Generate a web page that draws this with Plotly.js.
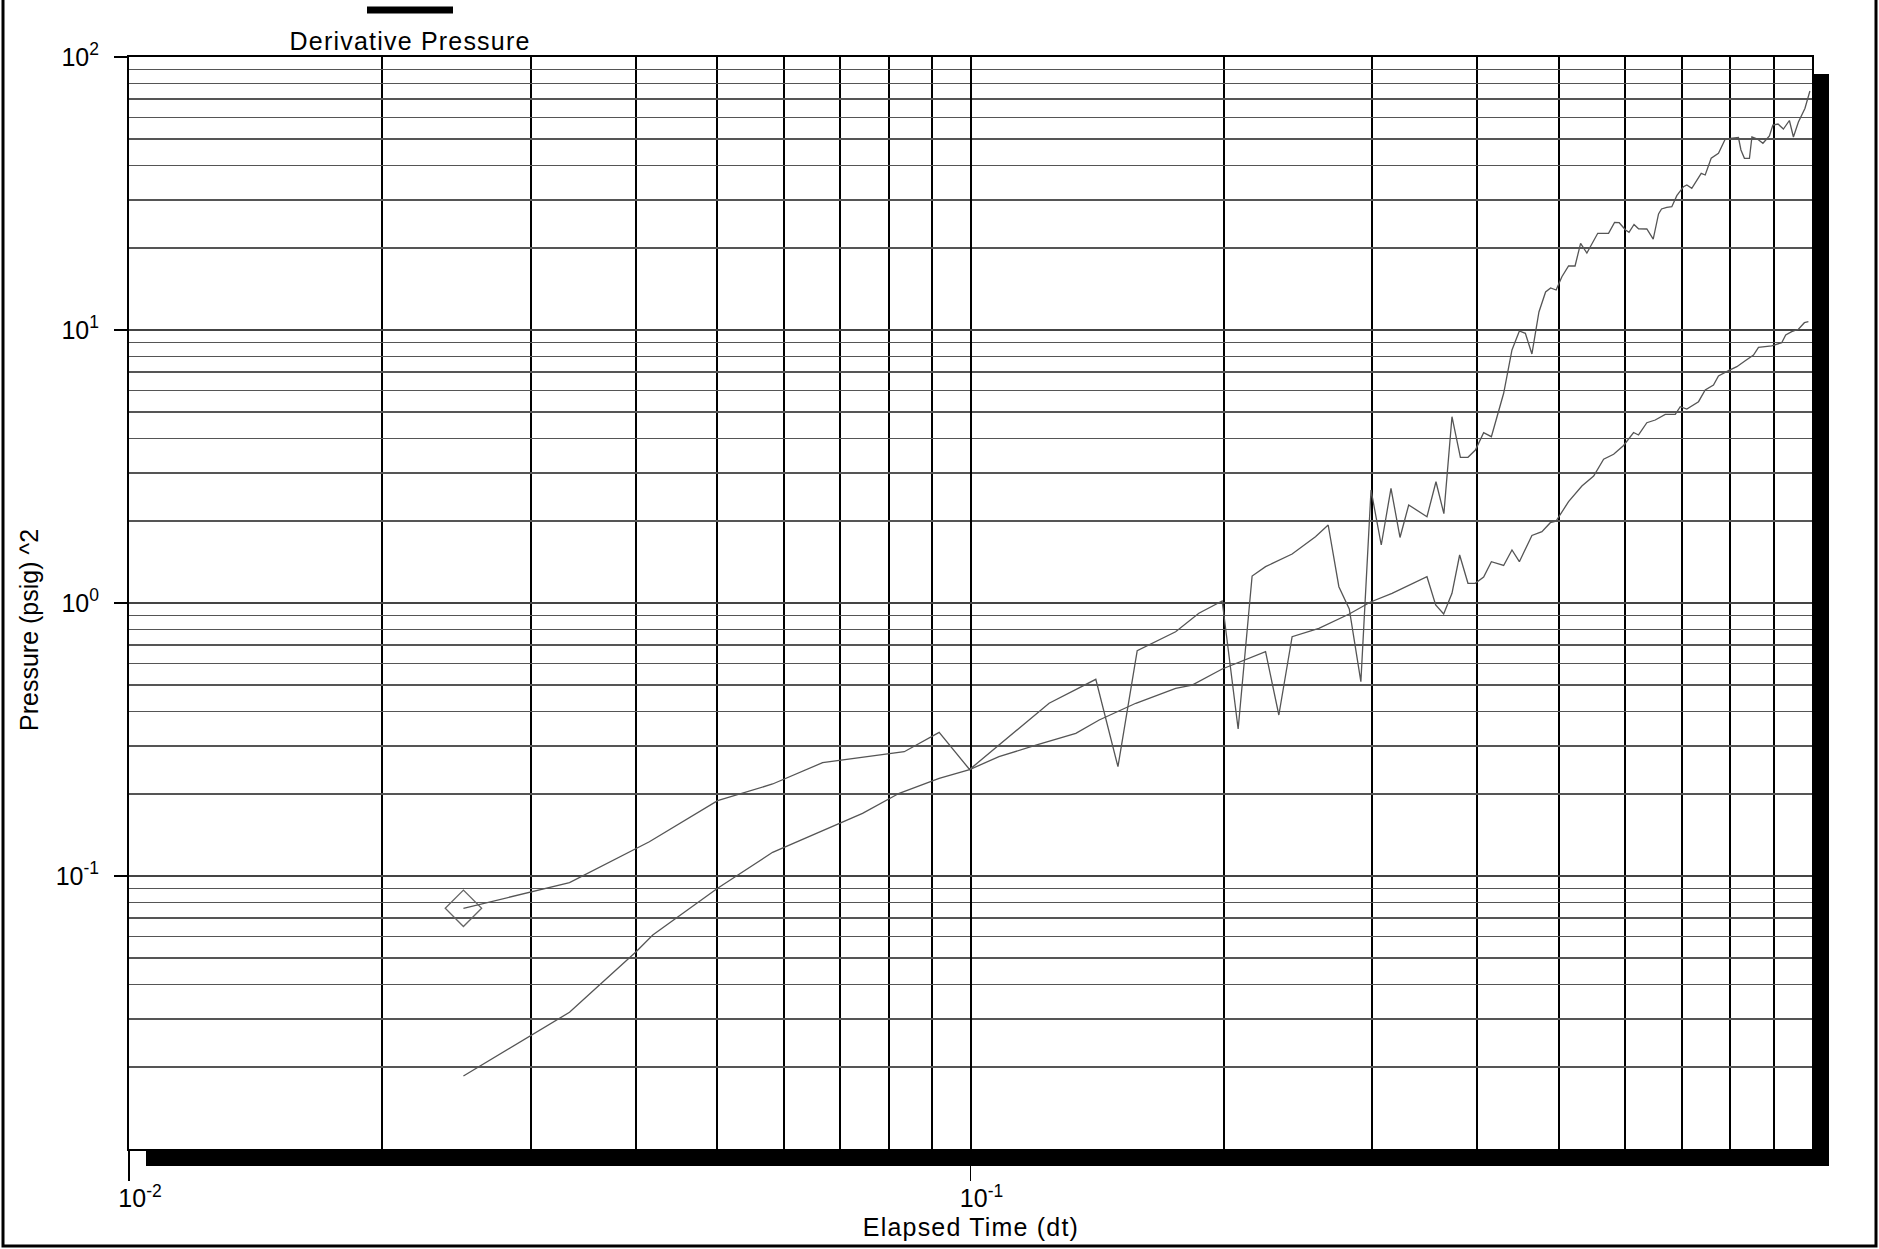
<!DOCTYPE html>
<html>
<head>
<meta charset="utf-8">
<script src="https://cdn.plot.ly/plotly-3.0.1.min.js"></script>
<style>
  html, body { margin: 0; padding: 0; background: #ffffff; }
  #chart { width: 1879px; height: 1249px; }
  .annotation[data-index="0"] text, .annotation[data-index="1"] text { letter-spacing: 1.2px; }
</style>
</head>
<body>
<div id="chart"></div>
<script>
// Derivative pressure curve (upper, noisy)
const derivTime = [0.02497, 0.03338, 0.04153, 0.05006, 0.05819, 0.06672, 0.08342, 0.09178, 0.09975, 0.1240,
  0.1409, 0.1497, 0.1578, 0.1753, 0.1868, 0.1991, 0.2080, 0.2161, 0.2242, 0.2411,
  0.2570, 0.2661, 0.2740, 0.2819, 0.2910, 0.2992, 0.3077, 0.3160, 0.3239, 0.3317,
  0.3487, 0.3574, 0.3652, 0.3734, 0.3821, 0.3901, 0.3981, 0.4072, 0.4159, 0.4301,
  0.4400, 0.4490, 0.4564, 0.4647, 0.4737, 0.4824, 0.4891, 0.4965, 0.5044, 0.5137,
  0.5229, 0.5309, 0.5401, 0.5564, 0.5731, 0.5826, 0.5901, 0.6004, 0.6061, 0.6145,
  0.6221, 0.6364, 0.6476, 0.6571, 0.6625, 0.6721, 0.6814, 0.6908, 0.7036, 0.7100,
  0.7197, 0.7385, 0.7466, 0.7589, 0.7742, 0.7885, 0.7994, 0.8177, 0.8233, 0.8312,
  0.8427, 0.8484, 0.8613, 0.8743, 0.8900, 0.8985, 0.9112, 0.9247, 0.9400, 0.9504,
  0.9635, 0.9808, 0.9943];
const derivValue = [0.07616, 0.09451, 0.1335, 0.1887, 0.2173, 0.2601, 0.2852, 0.3359, 0.2455, 0.4292,
  0.5254, 0.2514, 0.6687, 0.7849, 0.9169, 1.017, 0.3455, 1.2555, 1.3584, 1.5118,
  1.7494, 1.9307, 1.1472, 0.9507, 0.5149, 2.594, 1.631, 2.6315, 1.7377, 2.2856,
  2.0707, 2.7803, 2.1238, 4.8132, 3.4178, 3.4178, 3.6345, 4.206, 4.0664, 5.8643,
  8.449, 9.9161, 9.7256, 8.1686, 11.639, 13.78, 14.253, 14.014, 15.677, 17.157,
  17.157, 20.777, 19.145, 22.61, 22.61, 24.762, 24.72, 23.246, 22.8, 24.348,
  23.485, 23.445, 21.508, 26.604, 27.751, 28.151, 28.294, 31.045, 33.489, 33.972,
  33.039, 37.497, 36.963, 42.56, 44.393, 49.943, 50.367, 50.708, 45.641, 42.56,
  42.56, 50.922, 50.07, 48.292, 51.353, 56.352, 56.829, 54.48, 58.535, 50.922,
  57.8, 64.77, 75.07];

// Pressure curve (lower, smooth)
const presTime = [0.02497, 0.03338, 0.03623, 0.04005, 0.04192, 0.05006, 0.05819, 0.07442, 0.08228, 0.09178,
  0.09975, 0.1081, 0.1196, 0.1334, 0.1422, 0.1572, 0.1753, 0.1834, 0.1991, 0.2161,
  0.2242, 0.2325, 0.2411, 0.2594, 0.2819, 0.2988, 0.3169, 0.3487, 0.3571, 0.3650,
  0.3734, 0.3813, 0.3901, 0.3979, 0.4072, 0.4159, 0.4301, 0.4400, 0.4490, 0.4647,
  0.4776, 0.4887, 0.4962, 0.5137, 0.5328, 0.5502, 0.5654, 0.5811, 0.5972, 0.6137,
  0.6221, 0.6364, 0.6512, 0.6693, 0.6879, 0.6973, 0.7100, 0.7331, 0.7466, 0.7637,
  0.7742, 0.7957, 0.8141, 0.8330, 0.8521, 0.8638, 0.8956, 0.9205, 0.9306, 0.9460,
  0.9635, 0.9794, 0.9902];
const presValue = [0.01851, 0.03168, 0.03988, 0.05281, 0.06079, 0.09015, 0.1221, 0.1697, 0.2009, 0.2279,
  0.2455, 0.2735, 0.3018, 0.3331, 0.3728, 0.4292, 0.4870, 0.5007, 0.5731, 0.6357,
  0.6631, 0.3888, 0.7526, 0.8077, 0.9114, 1.0085, 1.0852, 1.2482, 0.9833, 0.9114,
  1.0852, 1.4991, 1.1808, 1.1808, 1.2451, 1.4166, 1.3722, 1.5636, 1.4166, 1.7672,
  1.8248, 1.9686, 1.9920, 2.3500, 2.6827, 2.9183, 3.3605, 3.5048, 3.7750, 4.2131,
  4.1253, 4.5756, 4.6809, 4.9110, 4.9110, 5.2363, 5.1353, 5.4624, 6.0291, 6.2886,
  6.7848, 7.0951, 7.3386, 7.7199, 8.0997, 8.6436, 8.7389, 8.9855, 9.5873, 9.8576,
  10.059, 10.635, 10.725];

// Axis ticks and grid positions
const xTickVals = [0.01, 0.1];
const xTickText = ['10<sup>-2</sup>', '10<sup>-1</sup>'];
const xGridVals = [0.02, 0.03, 0.04, 0.05, 0.06, 0.07, 0.08, 0.09,
  0.2, 0.3, 0.4, 0.5, 0.6, 0.7, 0.8, 0.9];
const yTickVals = [0.1, 1, 10, 100];
const yTickText = ['10<sup>-1</sup>', '10<sup>0</sup>', '10<sup>1</sup>', '10<sup>2</sup>'];
const yGridVals = [0.02, 0.03, 0.04, 0.05, 0.06, 0.07, 0.08, 0.09,
  0.2, 0.3, 0.4, 0.5, 0.6, 0.7, 0.8, 0.9,
  2, 3, 4, 5, 6, 7, 8, 9,
  20, 30, 40, 50, 60, 70, 80, 90];

const legendLabel = 'Derivative Pressure';
const xTitle = 'Elapsed Time (dt)';
const yTitle = 'Pressure (psig) ^2';

const FONT = 'Liberation Sans, Arial, sans-serif';
const lineColor = '#555555';

const traces = [
  {
    x: presTime, y: presValue, type: 'scatter', mode: 'lines', name: 'Pressure',
    line: { color: lineColor, width: 1.3 }, showlegend: false, hoverinfo: 'x+y'
  },
  {
    x: derivTime, y: derivValue, type: 'scatter', mode: 'lines', name: legendLabel,
    line: { color: lineColor, width: 1.3 }, showlegend: false, hoverinfo: 'x+y'
  },
  {
    x: [derivTime[0]], y: [derivValue[0]], type: 'scatter', mode: 'markers', name: legendLabel,
    marker: { symbol: 'diamond-open', size: 28, color: '#666666', line: { width: 1.3, color: '#666666' } },
    showlegend: false, hoverinfo: 'skip'
  }
];

const W = 1683, H = 1092, SH = 17;

const layout = {
  width: 1879, height: 1249,
  margin: { l: 129, r: 67, t: 57, b: 100, pad: 0 },
  paper_bgcolor: '#ffffff', plot_bgcolor: '#ffffff',
  showlegend: false,
  font: { family: FONT, size: 25, color: '#000000' },
  xaxis: {
    type: 'log', range: [-2, 0], tickmode: 'array', tickvals: xTickVals, ticktext: xTickText,
    ticks: 'outside', ticklen: 30, tickwidth: 1.5, tickcolor: '#000000',
    ticklabelshift: 11, ticklabelstandoff: -4,
    showgrid: true, gridcolor: '#000000', gridwidth: 2,
    minor: { tickmode: 'array', tickvals: xGridVals, showgrid: true, gridcolor: '#000000', gridwidth: 2, ticks: '' },
    showline: true, mirror: true, linecolor: '#000000', linewidth: 2,
    zeroline: false, tickfont: { family: FONT, size: 25, color: '#000000' }
  },
  yaxis: {
    type: 'log', range: [-2, 2], tickmode: 'array', tickvals: yTickVals, ticktext: yTickText,
    ticks: 'outside', ticklen: 13, tickwidth: 1.5, tickcolor: '#000000',
    ticklabelstandoff: 10,
    showgrid: true, gridcolor: '#444444', gridwidth: 1.6,
    minor: { tickmode: 'array', tickvals: yGridVals, showgrid: true, gridcolor: '#555555', gridwidth: 1.6, ticks: '' },
    showline: true, mirror: true, linecolor: '#000000', linewidth: 2,
    zeroline: false, tickfont: { family: FONT, size: 25, color: '#000000' }
  },
  shapes: [
    // drop shadow: right bar and bottom bar
    { type: 'rect', xref: 'paper', yref: 'paper', x0: 1, x1: 1 + SH / W, y0: -SH / H, y1: 1 - SH / H,
      fillcolor: '#000000', line: { width: 0 }, layer: 'above' },
    { type: 'rect', xref: 'paper', yref: 'paper', x0: SH / W, x1: 1 + SH / W, y0: -SH / H, y1: 0,
      fillcolor: '#000000', line: { width: 0 }, layer: 'above' },
    // outer frame
    { type: 'rect', xref: 'paper', yref: 'paper', x0: -126 / W, x1: 1747 / W, y0: -97 / H, y1: 1.07,
      fillcolor: 'rgba(0,0,0,0)', line: { width: 3, color: '#000000' }, layer: 'above' },
    // legend sample line
    { type: 'line', xref: 'paper', yref: 'paper', x0: 238 / W, x1: 324 / W, y0: 1139 / H, y1: 1139 / H,
      line: { width: 7, color: '#000000' }, layer: 'above' }
  ],
  annotations: [
    { text: legendLabel, xref: 'paper', yref: 'paper', x: 281 / W, y: 1108 / H,
      xanchor: 'center', yanchor: 'middle', showarrow: false,
      font: { family: FONT, size: 25, color: '#000000' } },
    { text: xTitle, xref: 'paper', yref: 'paper', x: 0.5, y: -78 / H,
      xanchor: 'center', yanchor: 'middle', showarrow: false,
      font: { family: FONT, size: 25, color: '#000000' } },
    { text: yTitle, xref: 'paper', yref: 'paper', x: -100 / W, y: 519 / H, textangle: -90,
      xanchor: 'center', yanchor: 'middle', showarrow: false,
      font: { family: FONT, size: 25, color: '#000000' } }
  ]
};

Plotly.newPlot('chart', traces, layout, { staticPlot: true, displayModeBar: false });
</script>
</body>
</html>
